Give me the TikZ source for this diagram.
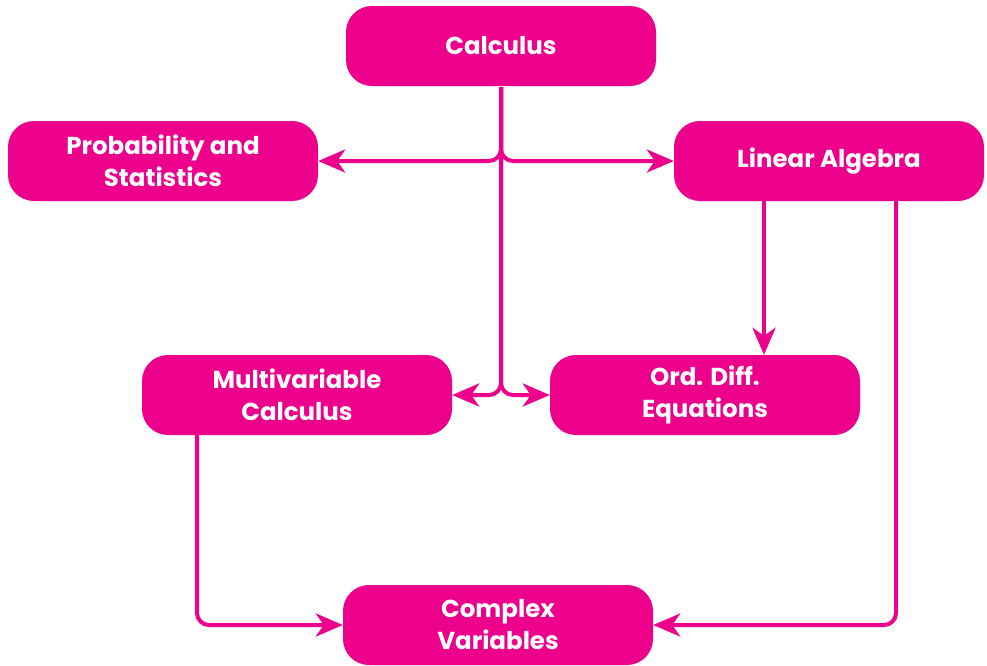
\documentclass[tikz,border=0pt]{standalone}
\usepackage{fontspec}
\setmainfont{Poppins}
\usetikzlibrary{arrows.meta}
\definecolor{mag}{HTML}{EC008C}
\begin{document}
\begin{tikzpicture}[x=1pt,y=-1pt,
  box/.style={fill=mag,rounded corners=26pt,minimum width=310pt,minimum height=80pt,inner sep=0pt,
    text=white,font=\fontsize{24.5}{32}\selectfont\bfseries,align=center},
  conn/.style={draw=mag,line width=4pt,rounded corners=12pt,-{Stealth[length=27pt,width=23pt,inset=8pt]}}]
\useasboundingbox (0,0) rectangle (987,665);
\node[box] (calc) at (501,46) {Calculus};
\node[box] (prob) at (163,161) {Probability and\\Statistics};
\node[box] (lin) at (829,161) {Linear Algebra};
\node[box] (multi) at (297,395) {Multivariable\\Calculus};
\node[box] (ode) at (705,395) {Ord. Diff.\\Equations};
\node[box] (cplx) at (498,625) {Complex\\Variables};
\coordinate (top) at (501,87);
\draw[conn] (top) |- (prob.east);
\draw[conn] (top) |- (lin.west);
\draw[conn] (top) |- (multi.east);
\draw[conn] (top) |- (ode.west);
\draw[conn] (lin.south -| 764,0) -- (ode.north -| 764,0);
\draw[conn] (lin.south -| 896,0) |- (cplx.east);
\draw[conn] (multi.south -| 197,0) |- (cplx.west);
\end{tikzpicture}
\end{document}
